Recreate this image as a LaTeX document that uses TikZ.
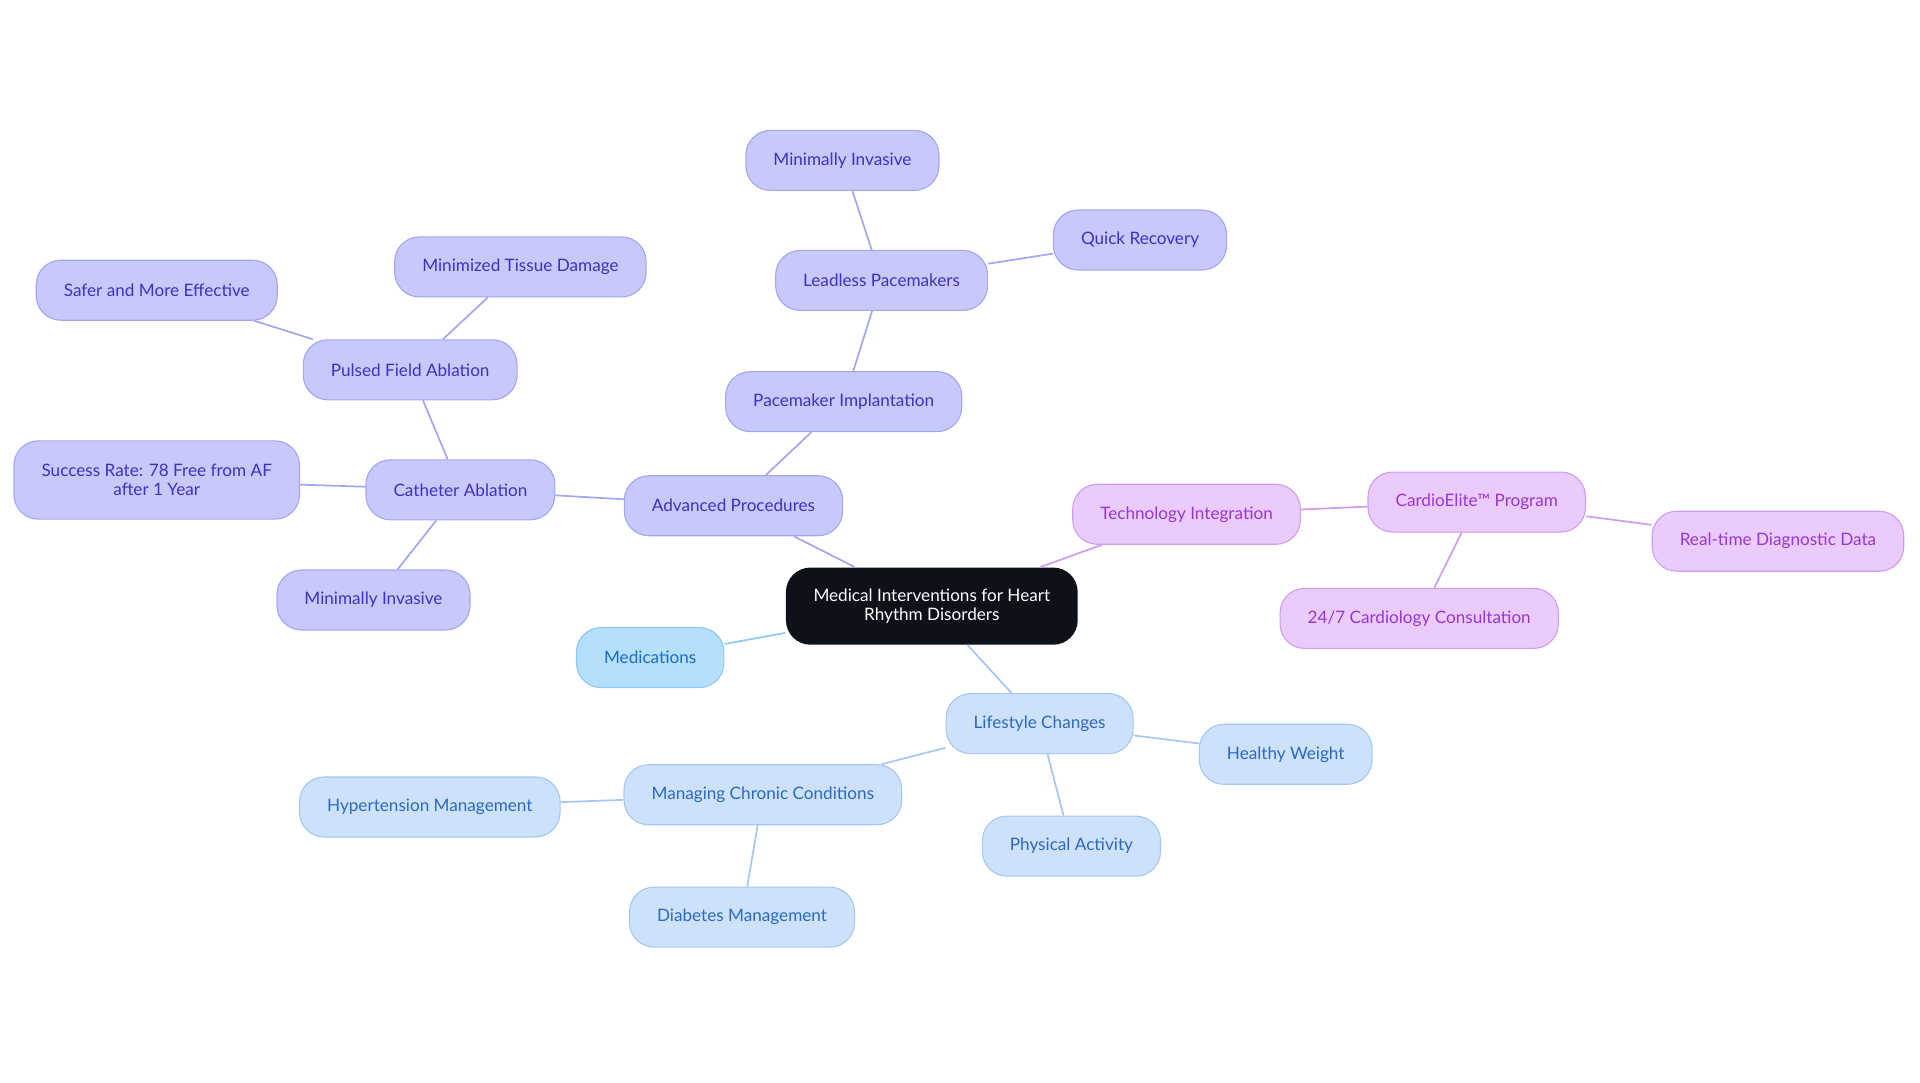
\documentclass[tikz,border=0pt]{standalone}
\usepackage{fontspec}
\setmainfont{Lato}
\usepackage{xcolor}
\usetikzlibrary{shapes}
\definecolor{rootfill}{HTML}{0C111A}
\definecolor{procfill}{HTML}{C8C9FB}
\definecolor{procline}{HTML}{A3A6F2}
\definecolor{proctext}{HTML}{3E30C8}
\definecolor{techfill}{HTML}{E9CCFC}
\definecolor{techline}{HTML}{D09CF2}
\definecolor{techtext}{HTML}{9A34D9}
\definecolor{medfill}{HTML}{B4DFFD}
\definecolor{medline}{HTML}{8DC8F6}
\definecolor{medtext}{HTML}{1C6DC6}
\definecolor{lifefill}{HTML}{CDE2FA}
\definecolor{lifeline}{HTML}{A6C8F0}
\definecolor{lifetext}{HTML}{2A69C4}

\begin{document}
\begin{tikzpicture}[x=1pt, y=-1pt]
		\tikzstyle{every node} = [font = \fontsize{14}{15}\selectfont]
		\tikzstyle{topic} = [rounded corners=20pt, minimum height=49pt, inner xsep=22.5pt, align=center, line width=0.9pt]
		\tikzstyle{proc} = [topic, fill=procfill, draw=procline, text=proctext]
		\tikzstyle{tech} = [topic, fill=techfill, draw=techline, text=techtext]
		\tikzstyle{med} = [topic, fill=medfill, draw=medline, text=medtext]
		\tikzstyle{life} = [topic, fill=lifefill, draw=lifeline, text=lifetext]
		\tikzstyle{link} = [line width=1.4pt]
				\useasboundingbox (0,0) rectangle (1568,884);
				% root
				\node[topic, fill=rootfill, text=white, minimum width=236pt, minimum height=63pt] (root) at (761,495)
					{Medical Interventions for Heart\\Rhythm Disorders};
				% advanced procedures
				\node[proc] (adv) at (599,413) {Advanced Procedures};
				\node[proc] (cath) at (376,400) {Catheter Ablation};
				\node[proc] (pfa) at (335,302) {Pulsed Field Ablation};
				\node[proc] (safer) at (128,237) {Safer and More Effective};
				\node[proc] (tissue) at (425,218) {Minimized Tissue Damage};
				\node[proc, minimum height=64pt] (success) at (128,392) {Success Rate: 78 Free from AF\\after 1 Year};
				\node[proc] (mininv) at (305,490) {Minimally Invasive};
				\node[proc] (pace) at (689,328) {Pacemaker Implantation};
				\node[proc] (leadless) at (720,229) {Leadless Pacemakers};
				\node[proc] (mininvb) at (688,131) {Minimally Invasive};
				\node[proc] (quick) at (931,196) {Quick Recovery};
				% technology
				\node[tech] (techint) at (969,420) {Technology Integration};
				\node[tech] (cardio) at (1206,410) {CardioElite™ Program};
				\node[tech] (realtime) at (1452,442) {Real-time Diagnostic Data};
				\node[tech] (consult) at (1159,505) {24/7 Cardiology Consultation};
				% medications
				\node[med] (meds) at (531,537) {Medications};
				% lifestyle
				\node[life] (life) at (849,591) {Lifestyle Changes};
				\node[life] (weight) at (1050,616) {Healthy Weight};
				\node[life] (activity) at (875,691) {Physical Activity};
				\node[life] (chronic) at (623,649) {Managing Chronic Conditions};
				\node[life] (hyper) at (351,659) {Hypertension Management};
				\node[life] (diabetes) at (606,749) {Diabetes Management};

				\path[draw,link,procline] (root)--(adv);
				\path[draw,link,procline] (adv)--(cath);
				\path[draw,link,procline] (cath)--(pfa);
				\path[draw,link,procline] (pfa)--(safer);
				\path[draw,link,procline] (pfa)--(tissue);
				\path[draw,link,procline] (cath)--(success);
				\path[draw,link,procline] (cath)--(mininv);
				\path[draw,link,procline] (adv)--(pace);
				\path[draw,link,procline] (pace)--(leadless);
				\path[draw,link,procline] (leadless)--(mininvb);
				\path[draw,link,procline] (leadless)--(quick);
				\path[draw,link,techline] (root)--(techint);
				\path[draw,link,techline] (techint)--(cardio);
				\path[draw,link,techline] (cardio)--(realtime);
				\path[draw,link,techline] (cardio)--(consult);
				\path[draw,link,medline] (root)--(meds);
				\path[draw,link,lifeline] (root)--(life);
				\path[draw,link,lifeline] (life)--(weight);
				\path[draw,link,lifeline] (life)--(activity);
				\path[draw,link,lifeline] (life)--(chronic);
				\path[draw,link,lifeline] (chronic)--(hyper);
				\path[draw,link,lifeline] (chronic)--(diabetes);
	\end{tikzpicture}
\end{document}
